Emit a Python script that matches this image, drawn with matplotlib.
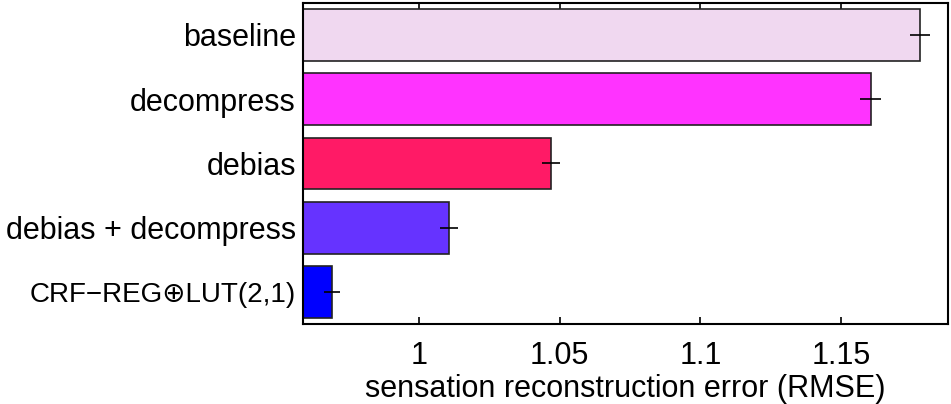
import matplotlib
matplotlib.use("Agg")
import matplotlib.pyplot as plt

plt.rcParams['font.family'] = ['Liberation Sans', 'DejaVu Sans']

labels = ["baseline", "decompress", "debias", "debias + decompress",
          "CRF\u2212REG\u2295LUT(2,1)"]
rmse = [1.178, 1.1606, 1.0468, 1.0107, 0.969]
err = [0.0036, 0.0037, 0.0032, 0.0032, 0.0029]
colors = ["#f0d8f0", "#ff33ff", "#ff1a66", "#6633ff", "#0000ff"]
xticks = [1, 1.05, 1.1, 1.15]
xtick_labels = ["1", "1.05", "1.1", "1.15"]


def main():
    fig = plt.figure(figsize=(9.51, 4.04), dpi=100)
    ax = fig.add_axes([0.3183, 0.1973, 0.6785, 0.796])

    ypos = list(range(1, len(labels) + 1))
    xmin = 0.9587
    widths = [v - xmin for v in rmse]
    ax.barh(ypos, widths, left=xmin, height=0.8, color=colors,
            edgecolor="#222222", linewidth=1.2, zorder=2)
    ax.errorbar(rmse, ypos, xerr=err, fmt="none", ecolor="black",
                elinewidth=1.2, capsize=0, zorder=3)

    ax.set_xlim(xmin, 1.188)
    ax.set_ylim(5.5, 0.5)
    ax.set_yticks(ypos)
    ax.set_yticklabels(labels, fontsize=22)
    # the last label is set smaller in the original
    ax.get_yticklabels()[-1].set_fontsize(20)
    ax.set_xticks(xticks)
    ax.set_xticklabels(xtick_labels, fontsize=22)
    ax.tick_params(axis="x", direction="in", length=5, width=1.2, top=True,
                   pad=12)
    ax.tick_params(axis="y", length=0, pad=5)
    for s in ax.spines.values():
        s.set_linewidth(1.5)
    ax.set_xlabel("sensation reconstruction error (RMSE)", fontsize=22,
                  labelpad=2)

    fig.savefig("out.png", dpi=100)


if __name__ == '__main__':
    main()
